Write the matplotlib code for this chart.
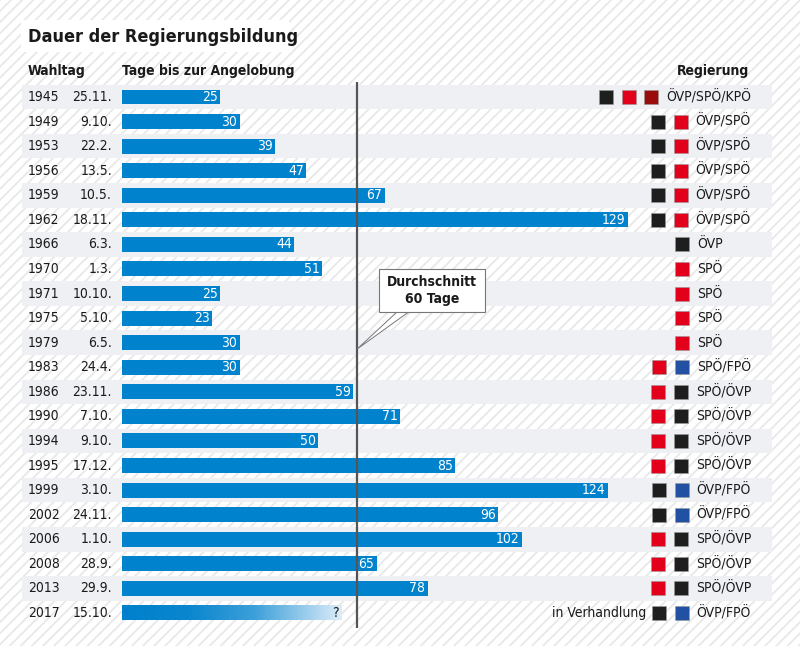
import matplotlib.pyplot as plt
import numpy as np
from matplotlib.patches import Rectangle, Polygon
from matplotlib.colors import LinearSegmentedColormap

years = [1945, 1949, 1953, 1956, 1959, 1962, 1966, 1970, 1971, 1975, 1979,
         1983, 1986, 1990, 1994, 1995, 1999, 2002, 2006, 2008, 2013, 2017]
dates = ["25.11.", "9.10.", "22.2.", "13.5.", "10.5.", "18.11.", "6.3.", "1.3.",
         "10.10.", "5.10.", "6.5.", "24.4.", "23.11.", "7.10.", "9.10.", "17.12.",
         "3.10.", "24.11.", "1.10.", "28.9.", "29.9.", "15.10."]
days = [25, 30, 39, 47, 67, 129, 44, 51, 25, 23, 30,
        30, 59, 71, 50, 85, 124, 96, 102, 65, 78]
pending_len = 56  # 2017: still negotiating, placeholder bar
average = 60
parties = [["ÖVP", "SPÖ", "KPÖ"], ["ÖVP", "SPÖ"], ["ÖVP", "SPÖ"], ["ÖVP", "SPÖ"],
           ["ÖVP", "SPÖ"], ["ÖVP", "SPÖ"], ["ÖVP"], ["SPÖ"], ["SPÖ"], ["SPÖ"], ["SPÖ"],
           ["SPÖ", "FPÖ"], ["SPÖ", "ÖVP"], ["SPÖ", "ÖVP"], ["SPÖ", "ÖVP"], ["SPÖ", "ÖVP"],
           ["ÖVP", "FPÖ"], ["ÖVP", "FPÖ"], ["SPÖ", "ÖVP"], ["SPÖ", "ÖVP"], ["SPÖ", "ÖVP"],
           ["ÖVP", "FPÖ"]]
party_colors = {"ÖVP": "#1e1e1e", "SPÖ": "#e2001a", "KPÖ": "#9a0b0b", "FPÖ": "#2251a3"}

plt.rcParams['font.family'] = ['DejaVu Sans']
plt.rcParams['font.stretch'] = 'condensed'
plt.rcParams['hatch.color'] = '#e8e8e8'
plt.rcParams['hatch.linewidth'] = 1.3

txt = '#1a1a1a'
blue = '#0082cc'
fs = 10
W, H = 800, 646
x0, scale = 122, 3.92   # pixel of 0 days, pixels per day
y0, step = 97, 24.57    # pixel of first row, pixels per row

fig = plt.figure(figsize=(8, 6.46), dpi=100)
ax = fig.add_axes([0, 0, 1, 1])
ax.set_xlim(-x0 / scale, (W - x0) / scale)
ax.set_ylim((H - y0) / step, -y0 / step)
ax.axis('off')


def px(x):
    return (x - x0) / scale


def py(y):
    return (y - y0) / step


# hatched background
ax.add_patch(Rectangle((0, 0), 1, 1, transform=ax.transAxes, facecolor='white',
                       hatch='///', edgecolor='#e8e8e8', lw=0, zorder=0))

# alternating row bands
n = len(years)
for i in range(0, n, 2):
    ax.add_patch(Rectangle((px(22), i - 0.5), px(772) - px(22), 1,
                           facecolor='#eef0f4', lw=0, zorder=0.5))

# title
ax.add_patch(Rectangle((px(21), py(20)), px(289) - px(21), 32 / step,
                       facecolor='white', lw=0, zorder=1))
ax.text(px(28), py(37), "Dauer der Regierungsbildung", fontsize=13,
        fontweight='bold', color=txt, va='center', ha='left', zorder=3)

# column headers
ax.text(px(28), py(71), "Wahltag", fontsize=fs, fontweight='bold', color=txt, va='center')
ax.text(px(122), py(71), "Tage bis zur Angelobung", fontsize=fs, fontweight='bold',
        color=txt, va='center')
ax.text(px(749), py(71), "Regierung", fontsize=fs, fontweight='bold', color=txt,
        va='center', ha='right')

# bars
idx = np.arange(len(days))
ax.barh(idx, days, height=0.61, color=blue, zorder=2)
for i, v in enumerate(days):
    ax.text(v - 0.6, i, str(v), color='white', fontsize=fs, ha='right',
            va='center', zorder=4)

# 2017 gradient bar
cmap = LinearSegmentedColormap.from_list(
    'fade', [(0, '#0080cc'), (0.3, '#0a86ce'), (0.6, '#3c9fd9'), (1, '#dcedf9')])
grad = np.linspace(0, 1, 256).reshape(1, -1)
last = n - 1
ax.imshow(grad, extent=[0, pending_len, last + 0.305, last - 0.305], aspect='auto',
          cmap=cmap, zorder=2)
ax.text(pending_len - 0.8, last, "?", color=txt, fontsize=fs, ha='right',
        va='center', zorder=4)
ax.text(px(646), last, "in Verhandlung", color=txt, fontsize=fs, ha='right',
        va='center', zorder=4)

# year/date labels
for i in range(n):
    ax.text(px(28), i, str(years[i]), color=txt, fontsize=fs, va='center', ha='left')
    ax.text(px(112), i, dates[i], color=txt, fontsize=fs, va='center', ha='right')

# governments with party squares
renderer = fig.canvas.get_renderer()
for i, plist in enumerate(parties):
    label = "/".join(plist)
    t = ax.text(px(697), i, label, color=txt, fontsize=fs, va='center', ha='left',
                zorder=4)
    w = t.get_window_extent(renderer).width
    start = 697
    if start + w > 751:
        start = 751 - w
        t.set_x(px(start))
    for k, p in enumerate(reversed(plist)):
        right = start - 8 - k * 22.5
        ax.add_patch(Rectangle((px(right - 14), i - 7 / step), 14 / scale, 14 / step,
                               facecolor=party_colors[p], edgecolor='#999999',
                               lw=0.4, zorder=3))

# average line
ax.plot([average, average], [py(82), py(628)], color='#555555', lw=1.6, zorder=3,
        solid_capstyle='butt')

# callout
ax.add_patch(Polygon([(px(398), py(311)), (average, py(349)), (px(410), py(311))],
                     closed=True, facecolor='white', edgecolor='#777777', lw=0.7,
                     zorder=4))
ax.add_patch(Rectangle((px(379), py(269)), px(485) - px(379), 43 / step,
                       facecolor='white', edgecolor='#777777', lw=0.8, zorder=4))
ax.text(px(432), py(290.5), "Durchschnitt\n60 Tage", color=txt, fontsize=fs,
        fontweight='bold', ha='center', va='center', linespacing=1.25, zorder=5)

fig.savefig("out.png", dpi=100)
